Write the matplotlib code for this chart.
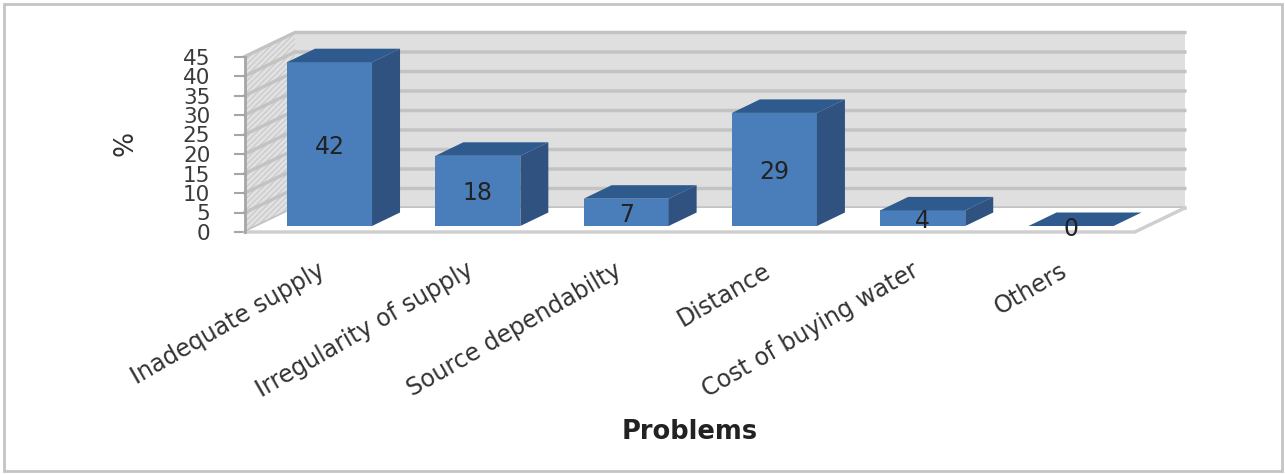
import matplotlib
matplotlib.use('Agg')
import matplotlib.pyplot as plt
from matplotlib.patches import Polygon, Rectangle
from matplotlib.transforms import ScaledTranslation

problems = ['Inadequate supply', 'Irregularity of supply', 'Source dependabilty',
            'Distance', 'Cost of buying water', 'Others']
percent = [42, 18, 7, 29, 4, 0]
y_ticks = [0, 5, 10, 15, 20, 25, 30, 35, 40, 45]

W, H = 1285, 474
PX_X = 148.3  # pixels per category
PX_Y = 3.9    # pixels per percent point

# depth of the box and of the bars, in axis units
wall_dx = 50 / PX_X
wall_dy = 24 / PX_Y
bar_dx = 28 / PX_X
bar_dy = 13.5 / PX_Y
bar_base = 6 / PX_Y
bar_width = 85 / PX_X
x0 = -0.57
x1 = 5.43

fig = plt.figure(figsize=(W / 100, H / 100), dpi=100)
fig.patch.set_facecolor('white')
fig.add_artist(Rectangle((4 / W, 3 / H), (W - 7) / W, (H - 7) / H, transform=fig.transFigure,
                         facecolor='white', edgecolor='#c4c4c4', linewidth=2, zorder=-1))

ax = fig.add_axes([245 / W, (H - 232) / H, 940 / W, 200 / H])
ax.set_xlim(x0, x0 + 940 / PX_X)
ax.set_ylim(0, 200 / PX_Y)
ax.patch.set_alpha(0)
for s in ['top', 'right', 'bottom']:
    ax.spines[s].set_visible(False)

# back wall, side wall, floor
top = max(y_ticks)
ax.add_patch(Polygon([(x0 + wall_dx, wall_dy), (x1 + wall_dx, wall_dy),
                      (x1 + wall_dx, top + wall_dy), (x0 + wall_dx, top + wall_dy)],
                     facecolor='#dfdfdf', edgecolor='none', zorder=1))
ax.add_patch(Polygon([(x0, 0), (x0 + wall_dx, wall_dy), (x0 + wall_dx, top + wall_dy), (x0, top)],
                     facecolor='#e2e2e2', edgecolor='#cccccc', hatch='//////', linewidth=0, zorder=1))
for v in y_ticks:
    ax.plot([x0, x0 + wall_dx, x1 + wall_dx], [v, v + wall_dy, v + wall_dy],
            color='#c3c3c3', lw=2.5, zorder=1.5, solid_joinstyle='miter', clip_on=False)
ax.add_patch(Polygon([(x0, 0), (x1, 0), (x1 + wall_dx, wall_dy), (x0 + wall_dx, wall_dy)],
                     facecolor='white', edgecolor='none', zorder=1.7))
ax.plot([x0, x1, x1 + wall_dx], [0, 0, wall_dy], color='#cfcfcf', lw=2.5, zorder=1.8, clip_on=False)

# bars: front face from the data, then the top and side faces
xs = list(range(len(problems)))
ax.bar(xs, percent, width=bar_width, bottom=bar_base, color='#4a7ebb', linewidth=0, zorder=3)
for x, v in zip(xs, percent):
    left = x - bar_width / 2
    right = x + bar_width / 2
    height = bar_base + v
    ax.add_patch(Polygon([(left, height), (right, height), (right + bar_dx, height + bar_dy),
                          (left + bar_dx, height + bar_dy)],
                         facecolor='#2f5a8e', edgecolor='none', zorder=3))
    ax.add_patch(Polygon([(right, bar_base), (right + bar_dx, bar_base + bar_dy),
                          (right + bar_dx, height + bar_dy), (right, height)],
                         facecolor='#2f5280', edgecolor='none', zorder=3))
    ax.text(x, bar_base + v / 2, str(v), ha='center', va='center_baseline', fontsize=17,
            color='#222222', zorder=4)

ax.spines['left'].set_bounds(0, top)
ax.spines['left'].set_color('#a6a6a6')
ax.spines['left'].set_linewidth(2)
ax.spines['left'].set_zorder(2)
ax.set_yticks(y_ticks)
ax.tick_params(axis='y', length=8, width=1.5, color='#a6a6a6', pad=17, labelsize=15.5,
               labelcolor='#3a3a3a')
ax.set_xticks(xs)
ax.set_xticklabels(problems, rotation=30, ha='right', va='top', rotation_mode='anchor',
                   fontsize=17, color='#333333')
ax.tick_params(axis='x', length=0, pad=19)

# pull the slanted labels slightly left of the category centres
shift = ScaledTranslation(-12 / 100, 0, fig.dpi_scale_trans)
for label in ax.get_xticklabels():
    label.set_transform(label.get_transform() + shift)

fig.text(125 / W, 1 - 143 / H, '%', rotation=90, ha='center', va='center', fontsize=19,
         color='#333333')
fig.text(690 / W, 1 - 432 / H, 'Problems', ha='center', va='center', fontsize=18.5,
         fontweight='bold', color='#222222')

fig.savefig('out.png', dpi=100)
